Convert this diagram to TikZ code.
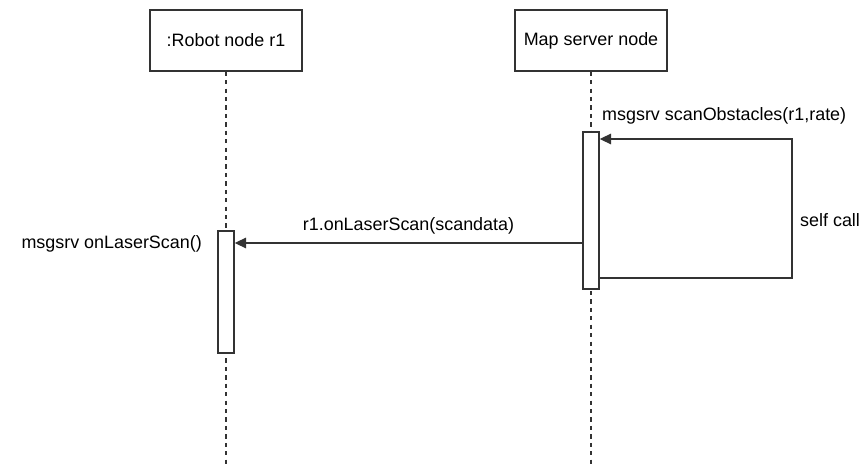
\documentclass[tikz,border=0pt]{standalone}
\usepackage{fontspec}
\setmainfont{Liberation Sans}
\usepackage{tikz}
\usetikzlibrary{arrows.meta, positioning}
\definecolor{linegray}{RGB}{51, 51, 51}

\begin{document}
\begin{tikzpicture}[x=0.02cm, y=-0.02cm, font=\fontsize{10.2}{12}\selectfont,
  actor/.style={draw=linegray, line width=0.8pt, fill=white, minimum width=3.04cm, minimum height=1.22cm, inner sep=0pt},
  lifeline/.style={draw=linegray, line width=0.8pt, dash pattern=on 2.4pt off 2.4pt},
  actbar/.style={draw=linegray, line width=0.8pt, fill=white, minimum width=0.32cm, inner sep=0pt},
  msg/.style={draw=linegray, line width=0.8pt, -{Triangle[length=6.5pt, width=6pt]}}]
  \useasboundingbox (0,0) rectangle (867,466);

  % Participants
  \node[actor] (robot) at (226,40.5) {:Robot node r1};
  \node[actor] (map) at (591,40.5) {Map server node};

  % Lifelines
  \coordinate (robotend) at (226,466);
  \coordinate (mapend) at (591,466);
  \draw[lifeline] (robot.south) -- (robotend);
  \draw[lifeline] (map.south) -- (mapend);

  % Activations
  \node[actbar, minimum height=3.14cm] (mapbar) at (591,210.5) {};
  \node[actbar, minimum height=2.44cm] (robotbar) at (226,292) {};

  % Self call
  \coordinate (selfout) at (792,278);
  \coordinate (selfin) at (792,139);
  \draw[msg] (mapbar.east |- selfout) -- (selfout) -- (selfin) -- (mapbar.east |- selfin);
  \node[anchor=west] (scanobs) at (596,116) {msgsrv scanObstacles(r1,rate)};
  \node[anchor=west] (selflbl) at (794,220) {self call};

  % Scan message
  \coordinate (scanlvl) at (400,243);
  \draw[msg] (mapbar.west |- scanlvl) -- (robotbar.east |- scanlvl)
    node[midway, above=1pt] (scanlbl) {r1.onLaserScan(scandata)};
  \node[anchor=east] (onscan) at (208,244) {msgsrv onLaserScan()};
\end{tikzpicture}
\end{document}
